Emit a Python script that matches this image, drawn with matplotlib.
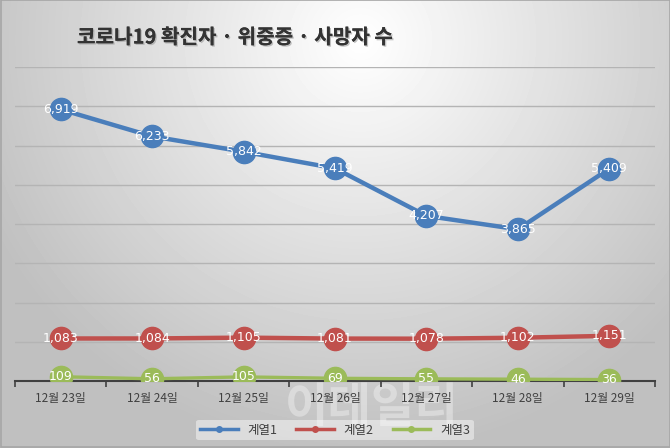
import numpy as np
import matplotlib
matplotlib.use('Agg')
import matplotlib.pyplot as plt
import matplotlib.patheffects as pe
from matplotlib.patches import Rectangle

plt.rcParams['font.family'] = ['Noto Sans CJK KR', 'DejaVu Sans']

dates = ['12월 23일', '12월 24일', '12월 25일', '12월 26일', '12월 27일', '12월 28일', '12월 29일']
series1 = [6919, 6233, 5842, 5419, 4207, 3865, 5409]
series2 = [1083, 1084, 1105, 1081, 1078, 1102, 1151]
series3 = [109, 56, 105, 69, 55, 46, 36]
names = ['계열1', '계열2', '계열3']
colors = ['#4a7ebb', '#c0504d', '#9bbb59']

fig = plt.figure(figsize=(6.7, 4.48), dpi=100)

# background gradient (light centre top, greyer edges)
bg = fig.add_axes([0, 0, 1, 1], zorder=-10)
yy, xx = np.mgrid[0:448, 0:670]
r = np.sqrt(((xx - 360) / 500.0) ** 2 + ((yy - 40) / 500.0) ** 2)
shade = np.clip(1.0 - 0.30 * r, 0.75, 1.0)
bg.imshow(shade, cmap='gray', vmin=0, vmax=1, aspect='auto', extent=[0, 670, 448, 0])
bg.add_patch(Rectangle((0.5, 0.5), 669, 447, fill=False, ec='#a6a6a6', lw=1.2))
bg.set_xlim(0, 670)
bg.set_ylim(448, 0)
bg.axis('off')

# faint watermark behind the chart
bg.text(372, 408, '이데일리', fontsize=34, fontweight='bold', color='white',
        alpha=0.35, ha='center', va='center')

ax = fig.add_axes([15 / 670, 1 - 381 / 448, 640 / 670, 314 / 448])
ax.patch.set_visible(False)
x = np.arange(len(dates))
ax.set_xlim(-0.5, len(dates) - 0.5)
ax.set_ylim(0, 8000)
for g in range(1000, 8001, 1000):
    ax.axhline(g, color='#b4b4b4', lw=1, zorder=0)

lws = [3.2, 3.2, 2.4]
for vals, c, n, lw in zip([series1, series2, series3], colors, names, lws):
    ax.plot(x, vals, color=c, lw=lw, marker='o', ms=16, mec=c, mfc=c, zorder=3)
    for xi, v in zip(x, vals):
        ax.text(xi, v, f'{v:,}', color='white', fontsize=9, ha='center', va='center',
                family=['Liberation Sans Narrow', 'DejaVu Sans'], zorder=5)

for s in ['top', 'right', 'left']:
    ax.spines[s].set_visible(False)
ax.spines['bottom'].set_color('#404040')
ax.spines['bottom'].set_linewidth(1.5)
ax.set_yticks([])
ax.set_xticks(np.arange(-0.5, len(dates), 1.0))
ax.set_xticklabels([])
ax.tick_params(axis='x', length=4, width=1.2, color='#404040', direction='out')
ax.set_xticks(x, minor=True)
ax.set_xticklabels(dates, minor=True, fontsize=8.5, color='#404040')
ax.tick_params(axis='x', which='minor', length=0, pad=8)

# title
fig.text(77 / 670, 1 - 37 / 448, '코로나19 확진자 · 위중증 · 사망자 수', fontsize=14.5,
         fontweight='bold', color='#333333', va='center', ha='left',
         path_effects=[pe.withSimplePatchShadow(offset=(1, -1), shadow_rgbFace='#999999', alpha=0.6),
                       pe.Normal()])

handles = [plt.Line2D([], [], color=c, lw=2.5, marker='o', ms=4) for c in colors]
leg = fig.legend(handles, names, loc='center', bbox_to_anchor=(0.5, 1 - 430 / 448), ncol=3,
                 frameon=True, fontsize=9, handlelength=3, columnspacing=1.5,
                 labelcolor='#404040', borderpad=0.3)
leg.get_frame().set_facecolor('white')
leg.get_frame().set_alpha(0.45)
leg.get_frame().set_edgecolor('none')

fig.savefig('out.png', dpi=100)
